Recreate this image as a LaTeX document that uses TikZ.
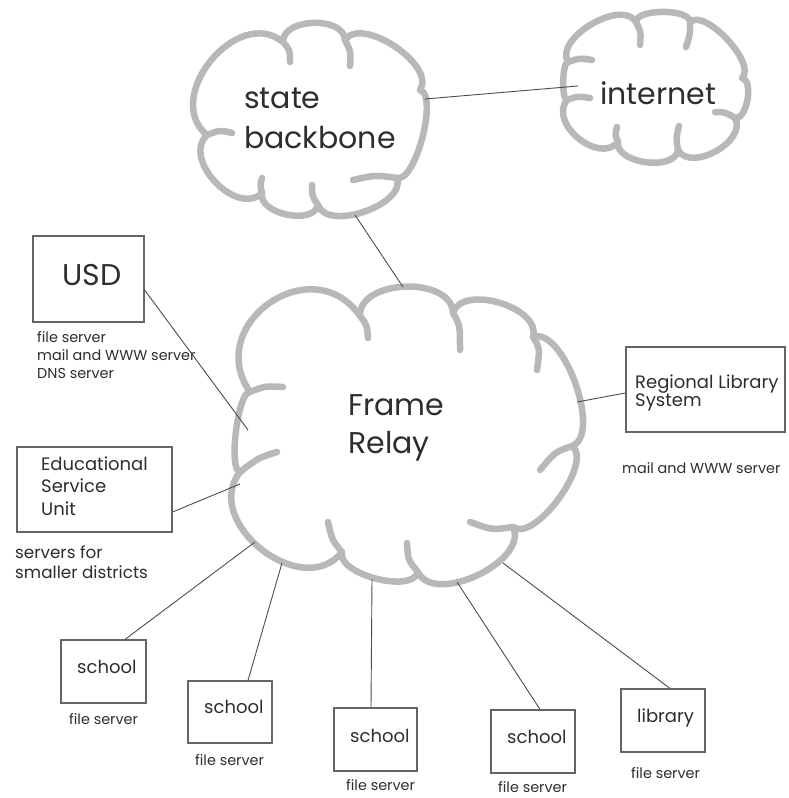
\documentclass[tikz,border=0pt]{standalone}
\usepackage{fontspec}
\setmainfont{Poppins}
\usetikzlibrary{calc}
\newcommand{\bmp}[3]{.. controls ($(#1)!#3!90:(#2)$) and ($(#2)!#3!-90:(#1)$) .. (#2)}
\tikzset{
  cloudline/.style={draw=black!28, line width=6.5pt, line cap=round, line join=round},
  conn/.style={draw=black!70, line width=0.9pt},
  box/.style={draw=black!60, line width=1.2pt, inner sep=0pt},
  lbl/.style={anchor=base west, inner sep=0pt, text=black!82},
  big/.style={lbl, font=\fontsize{30}{36}\selectfont},
  mid/.style={lbl, font=\fontsize{18}{22}\selectfont},
  midb/.style={lbl, font=\fontsize{16.8}{20}\selectfont},
  sml/.style={lbl, font=\fontsize{14.4}{17}\selectfont}
}
\begin{document}
\begin{tikzpicture}[x=1pt,y=-1pt]
\useasboundingbox (0,0) rectangle (788,798);
\fill[white] (0,0) rectangle (788,798);

% ---- state backbone cloud
\draw[cloudline] (207,135) \bmp{207,135}{283,42}{0.49} \bmp{283,42}{345,40}{0.39}
  \bmp{345,40}{420,90}{0.33} \bmp{420,90}{397,178}{0.21} \bmp{397,178}{318,205}{0.34}
  \bmp{318,205}{262,193}{0.37} \bmp{262,193}{207,135}{0.44};
\draw[cloudline] (207,135) .. controls (220,130) .. (232,133);
\draw[cloudline] (283,42) .. controls (290,50) .. (290,62);
\draw[cloudline] (345,40) .. controls (351,52) .. (350,66);
\draw[cloudline] (397,178) .. controls (375,175) .. (353,180);
\draw[cloudline] (318,205) .. controls (312,196) .. (312,185);
\draw[cloudline] (262,193) .. controls (260,185) .. (262,178);

% ---- internet cloud
\draw[cloudline] (568,62) \bmp{568,62}{636,22}{0.35} \bmp{636,22}{690,22}{0.25}
  \bmp{690,22}{742,78}{0.27} \bmp{742,78}{735,118}{0.3} \bmp{735,118}{678,150}{0.4}
  \bmp{678,150}{618,142}{0.36} \bmp{618,142}{567,100}{0.45} \bmp{567,100}{568,62}{0.15};
\draw[cloudline] (568,62) .. controls (580,58) .. (592,60);
\draw[cloudline] (636,22) .. controls (641,32) .. (640,45);
\draw[cloudline] (690,22) .. controls (690,35) .. (686,47);
\draw[cloudline] (735,118) .. controls (725,112) .. (715,112);
\draw[cloudline] (678,150) .. controls (676,138) .. (679,126);
\draw[cloudline] (618,142) .. controls (615,135) .. (617,127);
\draw[cloudline] (567,100) .. controls (578,96) .. (590,98);

% ---- Frame Relay cloud
\draw[cloudline] (250,392) \bmp{250,392}{360,316}{0.62} \bmp{360,316}{453,313}{0.4}
  \bmp{453,313}{533,337}{0.37} \bmp{533,337}{572,446}{0.28} \bmp{572,446}{513,527}{0.27}
  \bmp{513,527}{418,572}{0.36} \bmp{418,572}{342,552}{0.29} \bmp{342,552}{240,472}{0.49}
  \bmp{240,472}{250,392}{0.15};
\draw[cloudline] (360,316) .. controls (367,325) .. (368,338);
\draw[cloudline] (453,313) .. controls (460,325) .. (460,350);
\draw[cloudline] (533,337) .. controls (540,348) .. (537,370);
\draw[cloudline] (572,446) .. controls (555,452) .. (540,470);
\draw[cloudline] (513,527) .. controls (492,530) .. (470,522);
\draw[cloudline] (418,572) .. controls (408,560) .. (407,543);
\draw[cloudline] (342,552) .. controls (332,540) .. (328,522);
\draw[cloudline] (240,472) .. controls (258,458) .. (277,452);
\draw[cloudline] (250,392) .. controls (265,386) .. (283,387);

% ---- cloud texts
\node[big] (tstate) at (244,108) {state};
\node[big] (tbackbone) at (244,148) {backbone};
\node[big] (tinternet) at (600,104) {internet};
\node[big] (tframe) at (348,415) {Frame};
\node[big] (trelay) at (348,453) {Relay};

% ---- attachment points on clouds
\coordinate (bbR) at (425,99);
\coordinate (inL) at (578,86);
\coordinate (bbB) at (355,215);
\coordinate (frT) at (403,287);
\coordinate (frUsd) at (248,430);
\coordinate (frEsu) at (240,484);
\coordinate (frS1) at (255,542);
\coordinate (frS2) at (282,563);
\coordinate (frS3) at (372,579);
\coordinate (frS4) at (457,582);
\coordinate (frLib) at (503,563);
\coordinate (frRls) at (577,402);

% ---- boxes
\node[box, minimum width=111pt, minimum height=86pt] (usd) at (88.5,279) {};
\node[box, minimum width=155pt, minimum height=85pt] (esu) at (94.5,489.5) {};
\node[box, minimum width=159pt, minimum height=85pt] (rls) at (705.5,389.5) {};
\node[box, minimum width=85pt, minimum height=63pt] (s1) at (103.5,671.5) {};
\node[box, minimum width=84pt, minimum height=62pt] (s2) at (230,712) {};
\node[box, minimum width=83pt, minimum height=63pt] (s3) at (375.5,739.5) {};
\node[box, minimum width=84pt, minimum height=63pt] (s4) at (533,741.5) {};
\node[box, minimum width=84pt, minimum height=63pt] (lib) at (663,720.5) {};

% ---- box texts
\node[big] (tusd) at (62,285) {USD};
\node[sml] (tu1) at (37,342) {file server};
\node[sml] (tu2) at (37,360) {mail and WWW server};
\node[sml] (tu3) at (37,378) {DNS server};

\node[mid] (te1) at (41,470) {Educational};
\node[mid] (te2) at (41,492) {Service};
\node[mid] (te3) at (41,515) {Unit};
\node[midb] (te4) at (15,558) {servers for};
\node[midb] (te5) at (15,578) {smaller districts};

\node[mid] (tr1) at (635,388) {Regional Library};
\node[mid] (tr2) at (635,406) {System};
\node[sml] (tr3) at (622,473) {mail and WWW server};

\node[mid] (ts1) at (77,673) {school};
\node[sml] (tf1) at (69,724) {file server};
\node[mid] (ts2) at (204,713) {school};
\node[sml] (tf2) at (195,765) {file server};
\node[mid] (ts3) at (350,742) {school};
\node[sml] (tf3) at (346,790) {file server};
\node[mid] (ts4) at (507,743) {school};
\node[sml] (tf4) at (498,792) {file server};
\node[mid] (tl) at (637,722) {library};
\node[sml] (tfl) at (631,778) {file server};

% ---- connectors
\draw[conn] (bbR) -- (inL);
\draw[conn] (bbB) -- (frT);
\draw[conn] ([yshift=-11pt]usd.east) -- (frUsd);
\draw[conn] ([yshift=-22.5pt]esu.east) -- (frEsu);
\draw[conn] ([yshift=-3.5pt]rls.west) -- (frRls);
\draw[conn] ([xshift=21.5pt]s1.north) -- (frS1);
\draw[conn] ([xshift=18pt]s2.north) -- (frS2);
\draw[conn] ([xshift=-4.5pt]s3.north) -- (frS3);
\draw[conn] ([xshift=7pt]s4.north) -- (frS4);
\draw[conn] ([xshift=7pt]lib.north) -- (frLib);
\end{tikzpicture}
\end{document}
